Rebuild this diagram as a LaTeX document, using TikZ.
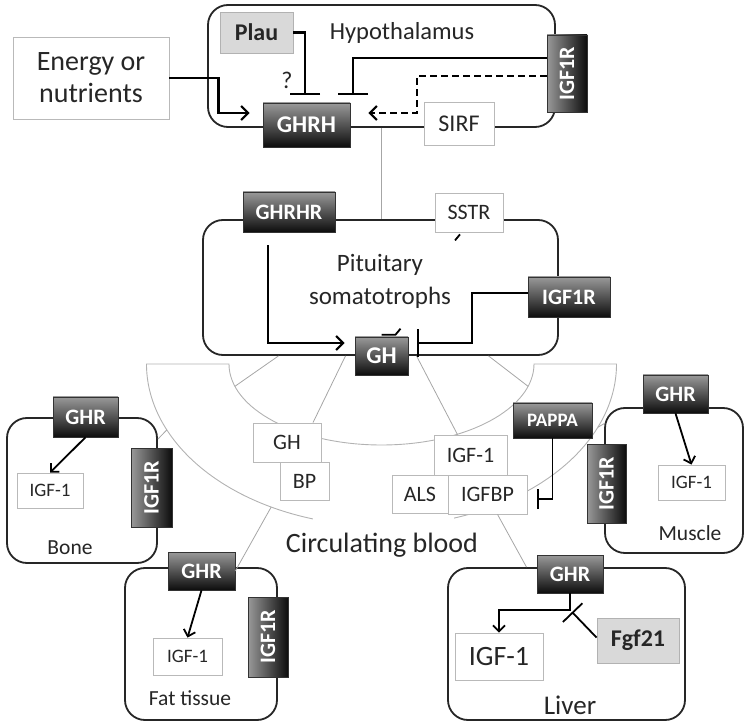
\documentclass[tikz,border=0pt]{standalone}
\usepackage{fontspec}
\setmainfont{Carlito}
\usetikzlibrary{arrows.meta}
\tikzstyle{cellbox} = [rectangle, rounded corners=20pt, draw=black!85,
line width=1.8pt, fill=white, inner sep=0pt]
\tikzstyle{plainbox} = [rectangle, draw=gray!55, line width=0.8pt,
fill=white, inner sep=0pt, align=center, text=black!85,
font=\fontsize{22}{24}\selectfont]
\tikzstyle{graybox} = [rectangle, draw=gray!60, line width=0.8pt,
fill=black!15, inner sep=0pt, text=black!85,
font=\bfseries\fontsize{24}{26}\selectfont]
\tikzstyle{darkbox} = [rectangle, draw=black!80, line width=0.6pt,
top color=black!40, bottom color=black!95, text=white, inner sep=0pt,
font=\bfseries\fontsize{22}{24}\selectfont]
\tikzstyle{darkvbox} = [rectangle, draw=black!80, line width=0.6pt,
left color=black!40, right color=black!95, text=white, inner sep=0pt,
font=\bfseries\fontsize{22}{24}\selectfont]
\tikzstyle{tag} = [inner sep=0pt, align=center, text=black!85]
\tikzstyle{arrow} = [-{Straight Barb[length=7pt, width=14pt]}, line width=2.2pt]
\tikzstyle{smallarrow} = [-{Straight Barb[length=6pt, width=12pt]}, line width=1.8pt]
\tikzstyle{inhibit} = [-{Bar[width=30pt]}, line width=2.2pt]
\tikzstyle{spoke} = [draw=gray!70, line width=0.8pt]
\tikzstyle{vessel} = [draw=gray!60, line width=0.9pt]

\begin{document}
\begin{tikzpicture}[x=1pt, y=-1pt]
    \useasboundingbox (0,0) rectangle (748,722);

    \node (hypo)   [cellbox, minimum width=347pt, minimum height=122pt] at (381.5,66) {};
    \node (pit)    [cellbox, minimum width=355pt, minimum height=135pt] at (380.5,287.5) {};
    \node (bone)   [cellbox, minimum width=150pt, minimum height=145pt] at (82,490.5) {};
    \node (muscle) [cellbox, minimum width=138pt, minimum height=145pt] at (674,480.5) {};
    \node (fat)    [cellbox, minimum width=152pt, minimum height=152pt] at (201,644) {};
    \node (liver)  [cellbox, minimum width=237pt, minimum height=152pt] at (566.5,644) {};

    % blood vessel
    \coordinate (vc) at (381.5,364);
    \draw[vessel] (vc) ++(107:235 and 162)
        arc[start angle=107, end angle=180, x radius=235, y radius=162] -- ++(82.5,0)
        arc[start angle=180, end angle=0, x radius=152.5, y radius=81] -- ++(82.5,0)
        arc[start angle=0, end angle=72, x radius=235, y radius=162];
    \path (vc) ++(164:152.5 and 81) coordinate (innerL);
    \path (vc) ++(16:152.5 and 81)  coordinate (innerR);
    \path (vc) ++(156:235 and 162)  coordinate (outerL);
    \path (vc) ++(118:235 and 162)  coordinate (outerB);
    \path (vc) ++(23:235 and 162)   coordinate (outerR);

    \node (energy) [plainbox, minimum width=156pt, minimum height=82pt,
        font=\fontsize{28}{32}\selectfont] at (91,78) {Energy or\\nutrients};
    \node (plau)  [graybox, minimum width=73pt, minimum height=41pt] at (256.5,32.5) {Plau};
    \node (ghrh)  [darkbox, minimum width=87pt, minimum height=44pt,
        font=\bfseries\fontsize{24}{26}\selectfont] at (306.5,125) {GHRH};
    \node (sirf)  [plainbox, minimum width=70pt, minimum height=43pt,
        font=\fontsize{24}{26}\selectfont] at (459,123.5) {SIRF};
    \node (igfr1) [darkvbox, minimum width=40pt, minimum height=77pt] at (567,73.5) {\rotatebox{90}{IGF1R}};
    \node (hyplabel) [tag, font=\fontsize{24.5}{26}\selectfont] at (402,33) {Hypothalamus};
    \node (query)    [tag, font=\fontsize{24}{26}\selectfont] at (287,80) {?};

    \node (ghrhr) [darkbox, minimum width=92pt, minimum height=40pt] at (289,212) {GHRHR};
    \node (sstr)  [plainbox, minimum width=68pt, minimum height=39pt] at (469,212.5) {SSTR};
    \node (igfr2) [darkbox, minimum width=82pt, minimum height=40pt] at (569,297) {IGF1R};
    \node (ghpit) [darkbox, minimum width=53pt, minimum height=38pt,
        font=\bfseries\fontsize{24}{26}\selectfont] at (381.5,356) {GH};
    \node (pitlabel) [tag, font=\fontsize{25}{33}\selectfont] at (380,281) {Pituitary\\somatotrophs};

    \node (ghcirc)  [plainbox, minimum width=68pt, minimum height=39pt] at (287,442.5) {GH};
    \node (bp)      [plainbox, minimum width=49pt, minimum height=38pt] at (304.5,481) {BP};
    \node (igfcirc) [plainbox, minimum width=73pt, minimum height=40pt] at (470.5,455) {IGF-1};
    \node (als)     [plainbox, minimum width=56pt, minimum height=38pt] at (420,494) {ALS};
    \node (igfbp)   [plainbox, minimum width=79pt, minimum height=39pt] at (487.5,494.5) {IGFBP};
    \node (pappa)   [darkbox, minimum width=79pt, minimum height=35pt,
        font=\bfseries\fontsize{19}{21}\selectfont] at (552.5,420.5) {PAPPA};
    \node (bloodlabel) [tag, font=\fontsize{28}{30}\selectfont] at (382,545) {Circulating blood};

    \node (ghrbone)  [darkbox, minimum width=65pt, minimum height=40pt] at (85.5,417) {GHR};
    \node (igfrbone) [darkvbox, minimum width=41pt, minimum height=79pt] at (151.5,487.5) {\rotatebox{90}{IGF1R}};
    \node (igfbone)  [plainbox, minimum width=66pt, minimum height=35pt,
        font=\fontsize{19}{21}\selectfont] at (50,490.5) {IGF-1};
    \node (bonelabel) [tag, font=\fontsize{21.5}{23}\selectfont] at (70,548) {Bone};

    \node (ghrmus)  [darkbox, minimum width=65pt, minimum height=38pt] at (675.5,394) {GHR};
    \node (igfrmus) [darkvbox, minimum width=39pt, minimum height=79pt] at (606.5,483.5) {\rotatebox{90}{IGF1R}};
    \node (igfmus)  [plainbox, minimum width=67pt, minimum height=35pt,
        font=\fontsize{19}{21}\selectfont] at (691.5,482.5) {IGF-1};
    \node (muslabel) [tag, font=\fontsize{21.5}{23}\selectfont] at (690,533) {Muscle};

    \node (ghrfat)  [darkbox, minimum width=67pt, minimum height=38pt] at (201.5,571) {GHR};
    \node (igfrfat) [darkvbox, minimum width=40pt, minimum height=80pt] at (268,637) {\rotatebox{90}{IGF1R}};
    \node (igffat)  [plainbox, minimum width=69pt, minimum height=37pt,
        font=\fontsize{19}{21}\selectfont] at (187.5,656.5) {IGF-1};
    \node (fatlabel) [tag, font=\fontsize{21.5}{23}\selectfont] at (190,698) {Fat tissue};

    \node (ghrliv) [darkbox, minimum width=66pt, minimum height=38pt] at (570,574) {GHR};
    \node (igfliv) [plainbox, minimum width=88pt, minimum height=47pt,
        font=\fontsize{28}{30}\selectfont] at (499,656.5) {IGF-1};
    \node (fgf)    [graybox, minimum width=82pt, minimum height=45pt] at (638,640.5) {Fgf21};
    \node (livlabel) [tag, font=\fontsize{27}{29}\selectfont] at (570,705) {Liver};

    \coordinate (plaubar)  at (305,95);
    \coordinate (igfbar)   at (353,95);
    \coordinate (pitbar)   at (417,343);
    \coordinate (pappabar) at (537,499);
    \coordinate (fgfbar)   at (572,612);

    \draw[spoke] (hypo.south) -- (hypo.south |- pit.north);
    \draw[spoke] ([xshift=-102pt]pit.south) -- (innerL);
    \draw[spoke] ([xshift=-35pt]pit.south) -- ([xshift=26pt]ghcirc.north);
    \draw[spoke] ([xshift=36pt]pit.south) -- ([xshift=-13pt]igfcirc.north);
    \draw[spoke] ([xshift=108pt]pit.south) -- (innerR);
    \draw[spoke] (outerL) -- ([yshift=-22pt]bone.north east);
    \draw[spoke] (outerB) -- (ghrfat.east);
    \draw[spoke] ([xshift=10pt]igfbp.south) -- ([xshift=-40pt]liver.north);
    \draw[spoke] (outerR) -- ([xshift=1pt,yshift=-16pt]muscle.north west);

    \draw[arrow] (energy.east) -- ++(49,0) |- ([xshift=-13pt,yshift=12pt]ghrh.west);
    \draw[inhibit] (plau.east) -| (plaubar);
    \draw[inhibit] ([yshift=15.5pt]igfr1.west) -| (igfbar);
    \draw[arrow, dash pattern=on 7pt off 4pt] ([yshift=-2.5pt]igfr1.west) -| (417,113)
        -- ([xshift=18pt,yshift=12pt]ghrh.east);

    \draw[arrow] ([xshift=-21pt,yshift=-13pt]ghrhr.south) |- ([xshift=-10pt,yshift=13pt]ghpit.west);
    \draw[inhibit, -{Bar[width=28pt]}] ([yshift=4pt]igfr2.west) -- ++(-56,0) |- (pitbar);
    \draw[line width=1.8pt] ([yshift=2pt]ghpit.north) -- ++(14,0) -- ++(5,-6);
    \draw[line width=1.8pt] ([xshift=-14pt,yshift=-8pt]sstr.south) -- ++(5,-6);

    \draw[inhibit, -{Bar[width=20pt]}, line width=1.8pt] (pappa.south) |- (pappabar);

    \draw[smallarrow] (ghrbone.south) -- (igfbone.north);
    \draw[smallarrow] (ghrmus.south) -- (igfmus.north);
    \draw[smallarrow] (ghrfat.south) -- (igffat.north);
    \draw[smallarrow] (ghrliv.south) -- ++(0,17) -| (igfliv.north);
    \draw[inhibit, -{Bar[width=27pt]}, line width=1.8pt] ([yshift=-20pt]fgf.north west) -- (fgfbar);
\end{tikzpicture}
\end{document}
